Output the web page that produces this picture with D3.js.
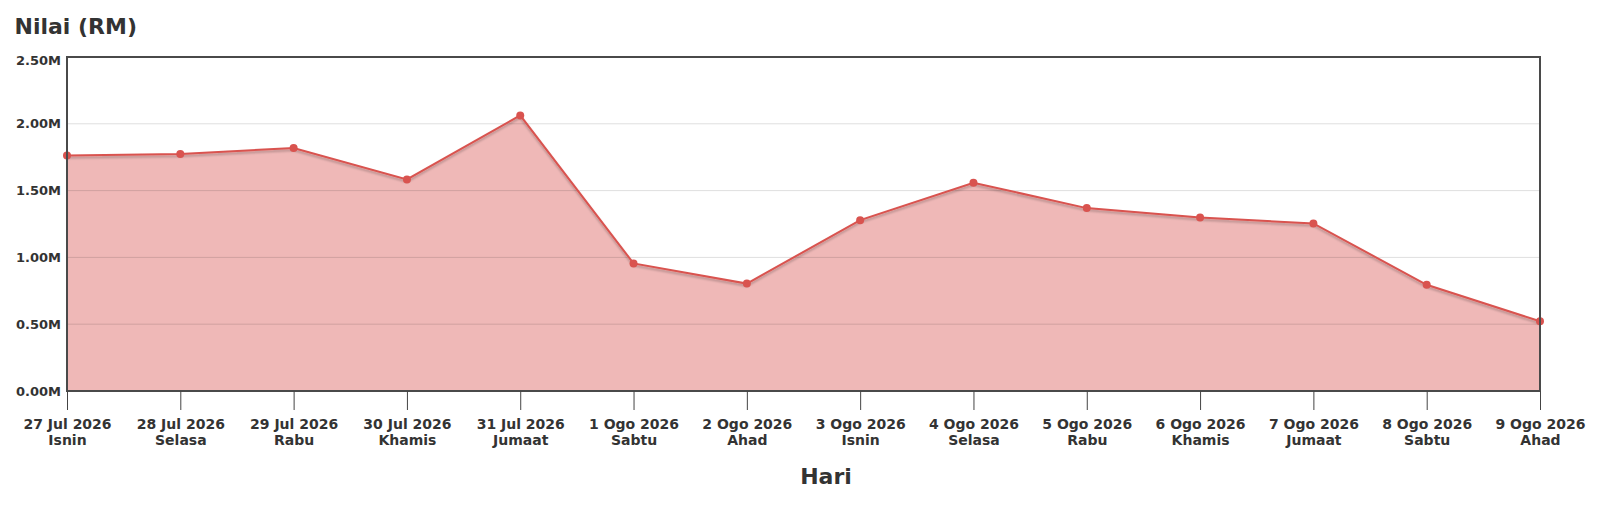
<!DOCTYPE html>
<html>
<head>
<meta charset="utf-8">
<script src="https://cdn.jsdelivr.net/npm/d3@7"></script>
<style>
  html, body { margin: 0; padding: 0; overflow: hidden; background: #fff; font-family: "DejaVu Sans", sans-serif; }
  svg { display: block; }
  svg text { fill: #333; font-weight: bold; }
</style>
</head>
<body>
<script>
// data
var dates = ['27 Jul 2026', '28 Jul 2026', '29 Jul 2026', '30 Jul 2026', '31 Jul 2026',
  '1 Ogo 2026', '2 Ogo 2026', '3 Ogo 2026', '4 Ogo 2026', '5 Ogo 2026',
  '6 Ogo 2026', '7 Ogo 2026', '8 Ogo 2026', '9 Ogo 2026'];
var days = ['Isnin', 'Selasa', 'Rabu', 'Khamis', 'Jumaat', 'Sabtu', 'Ahad',
  'Isnin', 'Selasa', 'Rabu', 'Khamis', 'Jumaat', 'Sabtu', 'Ahad'];
var values = [1762000, 1774000, 1819000, 1584000, 2063000, 955000, 804000,
  1279000, 1559000, 1369000, 1299000, 1254000, 795000, 522000];
var yTicks = [0, 500000, 1000000, 1500000, 2000000, 2500000];

var width = 1600, height = 523;
var margin = {left: 67, right: 60, top: 57, bottom: 132};
var innerW = width - margin.left - margin.right;
var innerH = height - margin.top - margin.bottom;

var svg = d3.select('body').append('svg')
  .attr('width', width)
  .attr('height', height);

var defs = svg.append('defs');
var shadow = defs.append('filter').attr('id', 'shadow')
  .attr('x', '-5%').attr('y', '-20%').attr('width', '110%').attr('height', '140%');
shadow.append('feDropShadow')
  .attr('dx', 0).attr('dy', 2).attr('stdDeviation', 1.2)
  .attr('flood-color', '#000').attr('flood-opacity', 0.25);

var x = d3.scalePoint()
  .domain(d3.range(dates.length))
  .range([0, innerW]);

var y = d3.scaleLinear()
  .domain([0, 2500000])
  .range([innerH, 0]);

var g = svg.append('g')
  .attr('transform', 'translate(' + margin.left + ',' + margin.top + ')');

// area
var area = d3.area()
  .x(function(d, i) { return x(i); })
  .y0(innerH)
  .y1(function(d) { return y(d); });

g.append('path')
  .attr('d', area(values))
  .attr('fill', '#efb8b7');

// grid lines (over the area)
g.selectAll('.grid')
  .data(yTicks.slice(1, -1))
  .enter()
  .append('line')
    .attr('x1', 0)
    .attr('x2', innerW)
    .attr('y1', function(d) { return y(d); })
    .attr('y2', function(d) { return y(d); })
    .attr('stroke', '#000')
    .attr('stroke-opacity', 0.13)
    .attr('stroke-width', 1);

var line = d3.line()
  .x(function(d, i) { return x(i); })
  .y(function(d) { return y(d); });

g.append('path')
  .attr('d', line(values))
  .attr('fill', 'none')
  .attr('stroke', '#d9534f')
  .attr('stroke-width', 2)
  .attr('filter', 'url(#shadow)');

g.selectAll('.dot')
  .data(values)
  .enter()
  .append('circle')
    .attr('cx', function(d, i) { return x(i); })
    .attr('cy', function(d) { return y(d); })
    .attr('r', 4)
    .attr('fill', '#d9534f');

// frame
g.append('rect')
  .attr('width', innerW)
  .attr('height', innerH)
  .attr('fill', 'none')
  .attr('stroke', '#4a4a4a')
  .attr('stroke-width', 2);

// y axis
var yAxis = d3.axisLeft(y)
  .tickValues(yTicks)
  .tickSize(0)
  .tickPadding(6)
  .tickFormat(function(d) { return (d / 1e6).toFixed(2) + 'M'; });

var yg = g.append('g').call(yAxis);
yg.select('.domain').remove();
yg.selectAll('text')
  .attr('font-size', 13)
  .attr('font-family', 'DejaVu Sans')
  .attr('y', function(d) { return d === 2500000 ? 3 : 0; });

// x axis
var xAxis = d3.axisBottom(x)
  .tickSize(19)
  .tickFormat(function(i) { return dates[i]; });

var xg = g.append('g')
  .attr('transform', 'translate(0,' + innerH + ')')
  .call(xAxis);
xg.select('.domain').remove();
xg.selectAll('.tick line').attr('stroke', '#444').attr('stroke-width', 1);
xg.selectAll('.tick text')
  .attr('font-size', 14)
  .attr('font-family', 'DejaVu Sans')
  .attr('y', 38)
  .attr('dy', 0)
  .each(function(i) {
    d3.select(this).append('tspan')
      .attr('x', 0)
      .attr('dy', 16)
      .text(days[i]);
  });

// titles
svg.append('text')
  .attr('x', 14.5)
  .attr('y', 34)
  .attr('font-size', 22)
  .text('Nilai (RM)');

svg.append('text')
  .attr('x', 826)
  .attr('y', 484)
  .attr('text-anchor', 'middle')
  .attr('font-size', 22)
  .text('Hari');
</script>
</body>
</html>
